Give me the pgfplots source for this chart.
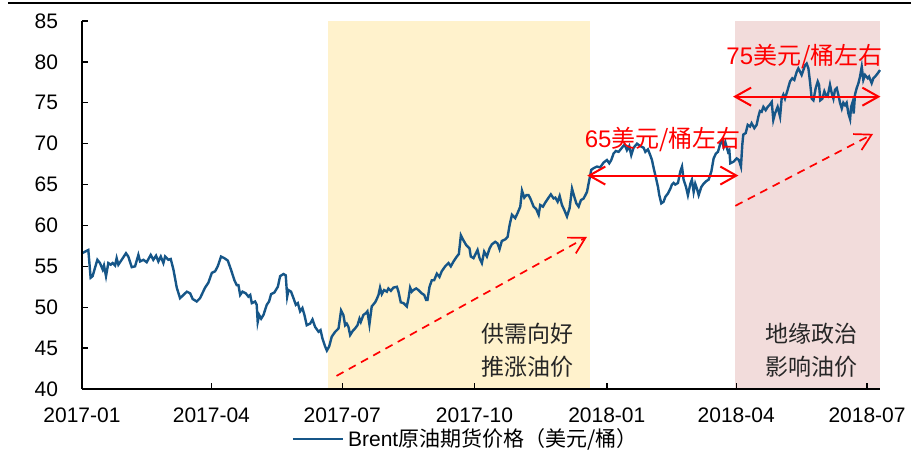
\documentclass[border=0pt]{standalone}
\usepackage{fontspec}
\setmainfont{Liberation Sans}
\newfontfamily\cjk{Noto Sans CJK SC}
\usepackage{pgfplots}
\pgfplotsset{compat=1.18}
\usetikzlibrary{arrows.meta}

\definecolor{brent}{RGB}{22,86,136}
\definecolor{boomfill}{RGB}{255,242,204}
\definecolor{geofill}{RGB}{242,220,219}
\definecolor{txtgray}{RGB}{38,38,38}

% x = days since 2017-01-01
\begin{document}
\begin{tikzpicture}
\path[use as bounding box] (-41pt,-32.5pt) rectangle (414.5pt,194.5pt);
\draw[line width=0.9pt] (-37pt,193pt) -- (414.5pt,193pt);
\begin{axis}[
  at={(0,0)}, anchor=south west,
  scale only axis, width=399pt, height=184pt,
  xmin=0, xmax=555, ymin=40, ymax=85,
  axis x line*=bottom, axis y line*=left,
  axis line style={line width=0.7pt},
  xtick={0,90,181,273,365,455,546},
  xticklabels={2017-01,2017-04,2017-07,2017-10,2018-01,2018-04,2018-07},
  ytick={40,45,...,85},
  tick align=inside, major tick length=3pt,
  tick style={black, line width=0.7pt},
  ticklabel style={font=\fontsize{10.5}{12}\selectfont},
  /pgf/number format/assume math mode=true,
  xticklabel style={yshift=-6pt},
  yticklabel style={xshift=-8.5pt},
  clip=false, axis on top,
  legend style={at={(0.482,-0.136)}, anchor=center, draw=none, fill=none,
    font=\fontsize{10.5}{12}\selectfont, inner sep=0pt},
  legend image code/.code={\draw[#1] (0pt,0pt) -- (25pt,0pt);},
]
\addplot[draw=none, fill=boomfill, forget plot] coordinates {(171,40) (171,85) (353.5,85) (353.5,40)};
\addplot[draw=none, fill=geofill, forget plot] coordinates {(454,40) (454,85) (555,85) (555,40)};

\addplot[brent, line width=1.2pt, mark=none] coordinates {
(0,56.6) (4.4,57.0) (6,53.6) (7.4,53.8) (9,54.8) (10.7,55.8) (12.5,55.4) (14.4,54.6)
(15.3,55.1) (16.7,53.8) (18.3,55.4) (20,55.2) (21.3,55.4) (23,55.1) (24.1,56.0) (25.3,55.2)
(27.6,55.8) (30.6,56.6) (32.2,56.2) (34.6,54.9) (36.9,55.0) (39.2,56.4) (40.4,55.6) (42.7,55.8)
(45,55.5) (47.8,56.4) (49.6,55.8) (51.5,56.3) (53.1,55.6) (54.8,56.2) (56.6,55.4) (57.8,56.2)
(60.1,55.8) (61.7,55.9) (63.6,54.6) (65.9,52.4) (68.2,51.1) (70.5,51.5) (72.9,51.9) (75.2,51.7)
(77,51.0) (79.8,50.7) (82.1,51.1) (85.6,52.4) (87.9,53.0) (90.3,54.2) (92.6,54.4)
(94.4,55.0) (96.7,56.2) (99,56.0) (101.4,55.7) (103.7,54.55) (106,53.3) (107.6,52.7) (108.8,52.7)
(110,51.5) (111.6,51.9) (113.9,51.7) (115.7,51.3) (117,51.5) (118.1,50.5) (120.4,50.7) (121.5,50.3)
(122.2,48.2) (123.2,49.05) (124.6,48.6) (126.2,49.05) (128.5,50.3) (130.1,50.7) (131.5,51.6)
(133.8,51.8) (136.2,52.5) (137.8,53.8) (140.1,54.06) (141.7,53.9) (142.7,51.3) (143.6,52.1)
(145.4,51.9) (147.1,51.1) (148.7,50.3) (150.1,50.5) (151.7,49.5) (153.3,49.9) (154.7,49.05)
(156.3,47.8) (158.7,48.0) (160.3,48.5) (162.1,47.6) (164.5,47.0) (165.9,47.2) (167.2,46.2)
(169.1,45.2) (170.3,44.7) (171.9,45.2) (173.7,46.4) (176.1,47.0) (178.4,47.4) (180.2,49.6)
(181.8,49.05) (183,47.8) (184.1,48.0) (185.3,47.6) (186.5,46.6) (188.3,47.1) (189.9,47.4)
(191.6,47.8) (193,48.6) (193.9,48.2) (195.7,49.05) (197.6,49.3) (198.5,49.5) (199.9,47.9)
(201.5,50.1) (203.9,50.6) (205,51.0) (206.2,51.5) (207.3,52.4) (208.5,51.6) (210.1,52.1)
(212,51.9) (213.1,52.3) (214.8,52.0) (216.6,52.4) (219,52.5) (220.1,51.9) (221.7,50.6)
(223.6,50.5) (225.9,50.1) (227.1,51.1) (228.2,52.4) (229.4,51.9) (230.5,52.1) (232.4,52.3)
(234,52.1) (236.3,51.7) (238,51.5) (239.3,50.9) (240.3,50.9) (241.7,52.5) (243.3,53.3)
(244.9,53.3) (246.8,54.1) (248.6,53.7) (250.2,54.4) (252.6,55.0) (254.9,55.4) (256.5,55.0)
(258.4,55.6) (260.7,56.2) (262.1,56.5) (263.5,58.8) (264.9,58.3) (267.2,57.6) (269.5,57.2)
(270.4,56.2) (272.3,56.0) (275.1,57.0) (276.5,56.0) (278.1,55.4) (279.7,56.8) (281.6,56.2)
(283.5,57.2) (285.1,57.7) (287.4,58.0) (289,57.8) (290.4,57.1) (292,58.1) (294.4,58.3)
(296,58.6) (297.4,60.05) (299,61.3) (301.3,60.9) (302.9,61.5) (304.8,62.3) (306,64.25)
(307.6,63.4) (309,63.7) (310.6,63.7) (311.8,63.3) (314.1,62.3) (315.9,62.0) (317.6,61.3)
(318.7,62.5) (320.6,62.3) (322.2,62.8) (324.5,63.4) (326.1,63.8) (328,63.3) (329.2,63.4)
(330.8,62.9) (332.2,63.6) (333.8,62.5) (335.4,61.9) (337.3,61.1) (339.1,62.1) (340.8,64.5)
(342.4,63.5) (343.8,62.7) (345.4,62.3) (347,63.1) (348.9,63.3) (351.2,64.1) (352.3,65.1)
(354.2,66.8) (355.8,67.0) (358.1,67.2) (360.4,67.1) (362.8,67.7) (365.1,68.0) (366.7,67.6)
(368.1,68.0) (369.7,68.8) (371.3,69.1) (373.2,69.0) (375.5,69.5) (377.4,69.9) (379,69.2)
(380.6,69.7) (382,68.6) (383.6,69.5) (386,70.0) (388.3,69.7) (390.6,69.5) (391.8,69.0)
(393.6,69.3) (395.2,68.6) (396.4,68.0) (397.6,67.0) (399.2,65.8) (400.6,64.7) (401.5,63.7)
(402.9,62.7) (404.5,62.9) (405.7,63.5) (407.5,63.9) (409.2,64.5) (410.3,65.0) (411.5,65.2)
(412.6,65.0) (414.5,65.2) (416.1,66.6) (417.3,67.2) (418.4,65.6) (420.1,64.7) (421.4,63.7)
(423.1,65.1) (424.2,65.6) (425.4,64.1) (426.5,65.1) (427.7,64.5) (428.9,63.7) (430.7,64.7)
(432.3,65.1) (434,65.4) (435.8,65.6) (437.7,66.6) (439.3,68.2) (440.9,68.8) (442.3,69.0)
(443.9,70.0) (445.1,70.4) (446.3,69.6) (447.4,70.2) (449.3,69.0) (450.2,69.2) (450.9,67.6)
(453.2,67.8) (455.3,68.2) (456.9,68.0) (458.3,67.2) (459.2,69.8) (459.9,71.1) (461.6,71.3)
(463,72.3) (464.6,72.1) (465.7,72.5) (467.6,71.9) (469.2,72.3) (470.4,73.3) (471.5,74.0)
(472.7,73.9) (473.9,74.5) (475.5,74.1) (476.9,74.5) (478.5,74.8) (479.7,75.1) (480.8,72.9)
(482,73.7) (483.8,74.5) (485.5,73.3) (486.6,75.5) (487.8,76.0) (488.9,75.5) (490.8,76.6)
(492.4,77.6) (494,78.0) (495.4,77.8) (497.1,78.8) (498.2,79.2) (499.4,78.8) (500.5,78.4)
(501.7,79.0) (502.9,79.6) (504,79.8) (505.2,79.2) (506.3,77.6) (507.5,75.5) (508.7,75.3)
(510.3,76.8) (511.7,77.6) (512.6,77.2) (513.5,75.3) (514.9,75.5) (516.3,76.4) (517.2,76.0)
(518.6,75.8) (520.2,77.2) (521.4,76.2) (522.6,75.5) (523.7,76.6) (524.9,76.8) (526,76.0)
(527.2,75.0) (528.4,74.3) (529.5,75.0) (530.7,74.7) (531.8,75.0) (533,73.7) (534.2,73.0)
(534.9,74.5) (535.8,75.0) (536.7,73.7) (537.6,76.0) (538.8,76.8) (540,77.4) (541.1,78.2)
(542.3,79.4) (543.4,77.8) (544.6,78.4) (546.5,78.0) (547.4,78.2) (549.2,77.4) (550.4,78.0)
(551.6,78.2) (553.4,78.6) (555,79.0)
};
\addlegendentry{Brent{\cjk 原油期货价格（美元/桶）}}

% annotations
\draw[red, line width=1pt, {Straight Barb[length=8pt,width=9pt]}-{Straight Barb[length=8pt,width=9pt]}]
  (axis cs:351.4,66.1) -- (axis cs:456.5,66.1);
\draw[red, line width=1pt, {Straight Barb[length=8pt,width=9pt]}-{Straight Barb[length=8pt,width=9pt]}]
  (axis cs:452.8,75.75) -- (axis cs:555.3,75.75);
\draw[red, line width=0.85pt, dash pattern=on 4pt off 3pt, -{Straight Barb[length=8pt,width=9pt]}]
  (axis cs:177,41.6) -- (axis cs:351.2,58.6);
\draw[red, line width=0.85pt, dash pattern=on 4pt off 3pt, -{Straight Barb[length=8pt,width=9pt]}]
  (axis cs:454.4,62.4) -- (axis cs:550.2,71.2);

\node[red, font=\fontsize{12}{14}\selectfont] at (axis cs:404,70.45) {65{\cjk 美元/桶左右}};
\node[red, font=\fontsize{12}{14}\selectfont] at (axis cs:502.5,80.6) {75{\cjk 美元/桶左右}};

\node[txtgray, font=\cjk\fontsize{11.5}{16.5}\selectfont, align=center] at (axis cs:310,44.7) {供需向好\\推涨油价};
\node[txtgray, font=\cjk\fontsize{11.5}{16.5}\selectfont, align=center] at (axis cs:507.7,44.7) {地缘政治\\影响油价};
\end{axis}
\end{tikzpicture}
\end{document}
